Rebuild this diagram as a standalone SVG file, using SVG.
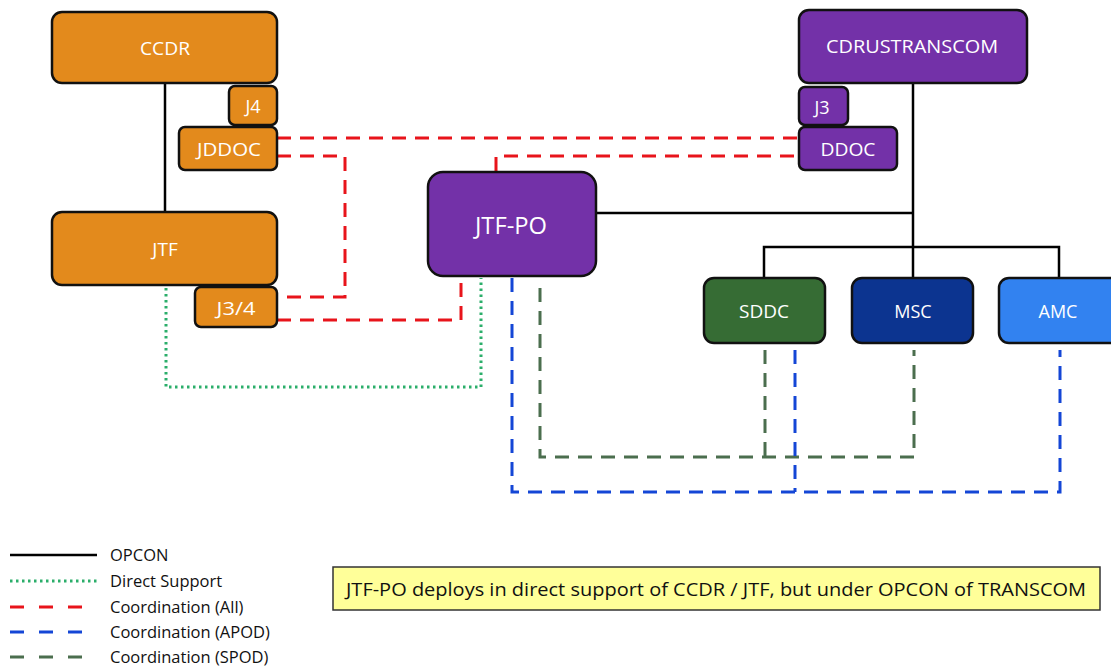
<svg xmlns="http://www.w3.org/2000/svg" width="1111" height="669" viewBox="0 0 1111 669">
<style>
.n{stroke:#111;stroke-width:2.5}
.or{fill:#E38A1C}
.pu{fill:#7331A8}
.t{font-family:"Open Sans","Liberation Sans",sans-serif;fill:#fff;text-anchor:middle;dominant-baseline:central}
.op{stroke:#000;stroke-width:2.5;fill:none}
.ds{stroke:#2BAE6A;stroke-width:3;fill:none;stroke-dasharray:2.5 3.5}
.ca{stroke:#E8141B;stroke-width:3;fill:none;stroke-dasharray:14 9}
.ap{stroke:#1446D6;stroke-width:3;fill:none;stroke-dasharray:14 9}
.sp{stroke:#4B6E4E;stroke-width:3;fill:none;stroke-dasharray:14 9}
.lg{font-family:"Open Sans","Liberation Sans",sans-serif;font-size:16.5px;fill:#111}
</style>
<g id="connectors">
<path class="op" d="M165,83 V212"/>
<path class="op" d="M596,213 H913"/>
<path class="op" d="M913,83 V247"/>
<path class="op" d="M764,278 V247 H1059 V278"/>
<path class="op" d="M913,247 V278"/>
<path class="ds" d="M166,288 V387 H481 V278"/>
<path class="ca" d="M277,138 H799"/>
<path class="ca" d="M277,156 H345 V297 H277"/>
<path class="ca" d="M277,320 H461 V278"/>
<path class="ca" d="M496,171 V156 H799"/>
<path class="sp" d="M540,288 V457 H914 V350"/>
<path class="sp" d="M765,350 V457"/>
<path class="ap" d="M512,278 V492 H1060 V350"/>
<path class="ap" d="M795,350 V492"/>
</g>
<g id="CCDR"><rect class="n or" x="52" y="12" width="225" height="71" rx="10"/><text class="t" x="165" y="48" font-size="19" textLength="50" lengthAdjust="spacingAndGlyphs">CCDR</text></g>
<g id="J4"><rect class="n or" x="229" y="86" width="48" height="39" rx="6"/><text class="t" x="253" y="106" font-size="18">J4</text></g>
<g id="JDDOC"><rect class="n or" x="179" y="127" width="98" height="43" rx="6"/><text class="t" x="229" y="149" font-size="19" textLength="64" lengthAdjust="spacingAndGlyphs">JDDOC</text></g>
<g id="JTF"><rect class="n or" x="52" y="212" width="225" height="73" rx="10"/><text class="t" x="165" y="249" font-size="19">JTF</text></g>
<g id="J3-4"><rect class="n or" x="195" y="287" width="82" height="40" rx="6"/><text class="t" x="236" y="308" font-size="19" textLength="39" lengthAdjust="spacingAndGlyphs">J3/4</text></g>
<g id="JTF-PO"><rect class="n pu" x="428" y="172" width="168" height="104" rx="15"/><text class="t" x="511" y="225" font-size="23" textLength="72" lengthAdjust="spacingAndGlyphs">JTF-PO</text></g>
<g id="CDRUSTRANSCOM"><rect class="n pu" x="799" y="10" width="228" height="73" rx="10"/><text class="t" x="912" y="46" font-size="19" textLength="172" lengthAdjust="spacingAndGlyphs">CDRUSTRANSCOM</text></g>
<g id="J3"><rect class="n pu" x="799" y="87" width="49" height="38" rx="6"/><text class="t" x="822" y="107" font-size="18">J3</text></g>
<g id="DDOC"><rect class="n pu" x="799" y="127" width="98" height="43" rx="6"/><text class="t" x="848" y="149" font-size="19" textLength="55" lengthAdjust="spacingAndGlyphs">DDOC</text></g>
<g id="SDDC"><rect class="n" fill="#366C34" x="704" y="278" width="121" height="65" rx="10"/><text class="t" x="764" y="311" font-size="18" textLength="50" lengthAdjust="spacingAndGlyphs">SDDC</text></g>
<g id="MSC"><rect class="n" fill="#0C3490" x="852" y="278" width="121" height="65" rx="10"/><text class="t" x="913" y="311" font-size="18">MSC</text></g>
<g id="AMC"><rect class="n" fill="#3282F0" x="999" y="278" width="125" height="65" rx="10"/><text class="t" x="1058" y="311" font-size="18">AMC</text></g>
<g id="legend">
<line class="op" x1="10" y1="555" x2="97" y2="555"/>
<line class="ds" x1="10" y1="581" x2="97" y2="581"/>
<line class="ca" x1="10" y1="607" x2="97" y2="607" style="stroke-dasharray:14 15"/>
<line class="ap" x1="10" y1="632" x2="97" y2="632" style="stroke-dasharray:14 15"/>
<line class="sp" x1="10" y1="657" x2="97" y2="657" style="stroke-dasharray:14 15"/>
<text class="lg" x="110" y="561">OPCON</text>
<text class="lg" x="110" y="587">Direct Support</text>
<text class="lg" x="110" y="613">Coordination (All)</text>
<text class="lg" x="110" y="638">Coordination (APOD)</text>
<text class="lg" x="110" y="663">Coordination (SPOD)</text>
</g>
<g id="note"><rect x="333" y="567" width="767" height="43" fill="#FFFF99" stroke="#333" stroke-width="1.5"/><text x="716" y="589" font-family="'Open Sans','Liberation Sans',sans-serif" font-size="19" fill="#111" text-anchor="middle" dominant-baseline="central" textLength="740" lengthAdjust="spacingAndGlyphs">JTF-PO deploys in direct support of CCDR / JTF, but under OPCON of TRANSCOM</text></g>
</svg>
